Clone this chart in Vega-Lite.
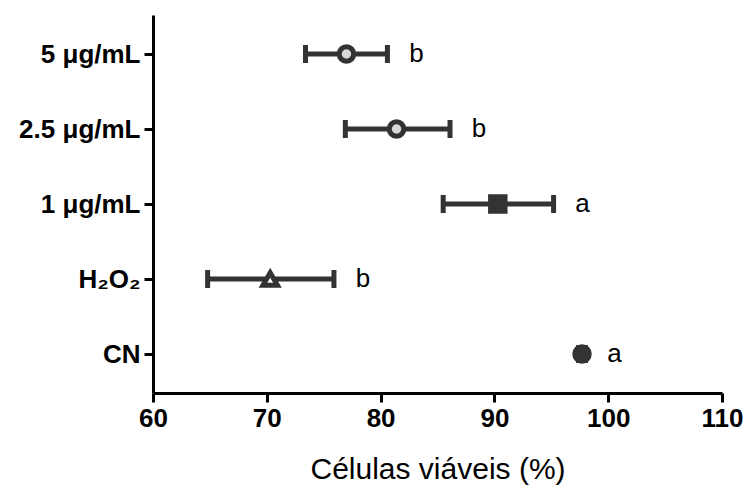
{
  "$schema": "https://vega.github.io/schema/vega-lite/v6.json",
  "autosize": "none",
  "width": 569,
  "height": 378,
  "padding": {"left": 153, "top": 15, "right": 24, "bottom": 96},
  "background": "white",
  "config": {
    "view": {"stroke": null},
    "font": "Liberation Sans"
  },
  "data": {
    "values": [
      {"group": "5 μg/mL", "mean": 77.0, "lower": 73.4, "upper": 80.6, "letter": "b"},
      {"group": "2.5 μg/mL", "mean": 81.4, "lower": 76.9, "upper": 86.1, "letter": "b"},
      {"group": "1 μg/mL", "mean": 90.3, "lower": 85.5, "upper": 95.2, "letter": "a"},
      {"group": "H₂O₂", "mean": 70.3, "lower": 64.8, "upper": 75.9, "letter": "b"},
      {"group": "CN", "mean": 97.7, "lower": 97.4, "upper": 98.0, "letter": "a"}
    ]
  },
  "encoding": {
    "y": {
      "field": "group",
      "type": "nominal",
      "sort": ["5 μg/mL", "2.5 μg/mL", "1 μg/mL", "H₂O₂", "CN"],
      "scale": {"type": "point", "padding": 0.52},
      "axis": {
        "title": null,
        "labelFont": "Liberation Sans",
        "labelFontWeight": "bold",
        "labelFontSize": 26,
        "labelColor": "black",
        "labelPadding": 4,
        "tickSize": 9,
        "tickWidth": 3,
        "tickColor": "black",
        "domainColor": "black",
        "domainWidth": 3,
        "grid": false
      }
    }
  },
  "layer": [
    {
      "mark": {"type": "rule", "color": "#333333", "strokeWidth": 5},
      "encoding": {
        "x": {
          "field": "lower",
          "type": "quantitative",
          "scale": {"domain": [60, 110], "nice": false, "zero": false},
          "axis": {
            "title": "Células viáveis (%)",
            "values": [60, 70, 80, 90, 100, 110],
            "titleFont": "Liberation Sans",
            "titleFontWeight": "normal",
            "titleFontSize": 30,
            "titleColor": "black",
            "titlePadding": 23,
            "labelFont": "Liberation Sans",
            "labelFontWeight": "bold",
            "labelFontSize": 26,
            "labelColor": "black",
            "labelPadding": 3,
            "labelFlush": false,
            "tickSize": 9,
            "tickWidth": 3,
            "tickColor": "black",
            "domainColor": "black",
            "domainWidth": 3,
            "grid": false
          }
        },
        "x2": {"field": "upper"}
      }
    },
    {
      "mark": {"type": "tick", "orient": "vertical", "color": "#333333", "opacity": 1, "size": 18, "thickness": 5},
      "encoding": {"x": {"field": "lower", "type": "quantitative"}}
    },
    {
      "mark": {"type": "tick", "orient": "vertical", "color": "#333333", "opacity": 1, "size": 18, "thickness": 5},
      "encoding": {"x": {"field": "upper", "type": "quantitative"}}
    },
    {
      "mark": {"type": "point", "filled": true, "stroke": "#333333", "strokeWidth": 5, "size": 210, "opacity": 1},
      "encoding": {
        "x": {"field": "mean", "type": "quantitative"},
        "shape": {
          "field": "group",
          "type": "nominal",
          "scale": {
            "domain": ["5 μg/mL", "2.5 μg/mL", "1 μg/mL", "H₂O₂", "CN"],
            "range": ["circle", "circle", "square", "triangle-up", "circle"]
          },
          "legend": null
        },
        "fill": {
          "field": "group",
          "type": "nominal",
          "scale": {
            "domain": ["5 μg/mL", "2.5 μg/mL", "1 μg/mL", "H₂O₂", "CN"],
            "range": ["#d9d9d9", "#d9d9d9", "#333333", "#ffffff", "#333333"]
          },
          "legend": null
        }
      }
    },
    {
      "mark": {"type": "text", "dx": 29, "align": "center", "baseline": "middle", "fontSize": 26, "font": "Liberation Sans", "color": "black"},
      "encoding": {
        "x": {"field": "upper", "type": "quantitative"},
        "text": {"field": "letter"}
      }
    }
  ]
}
